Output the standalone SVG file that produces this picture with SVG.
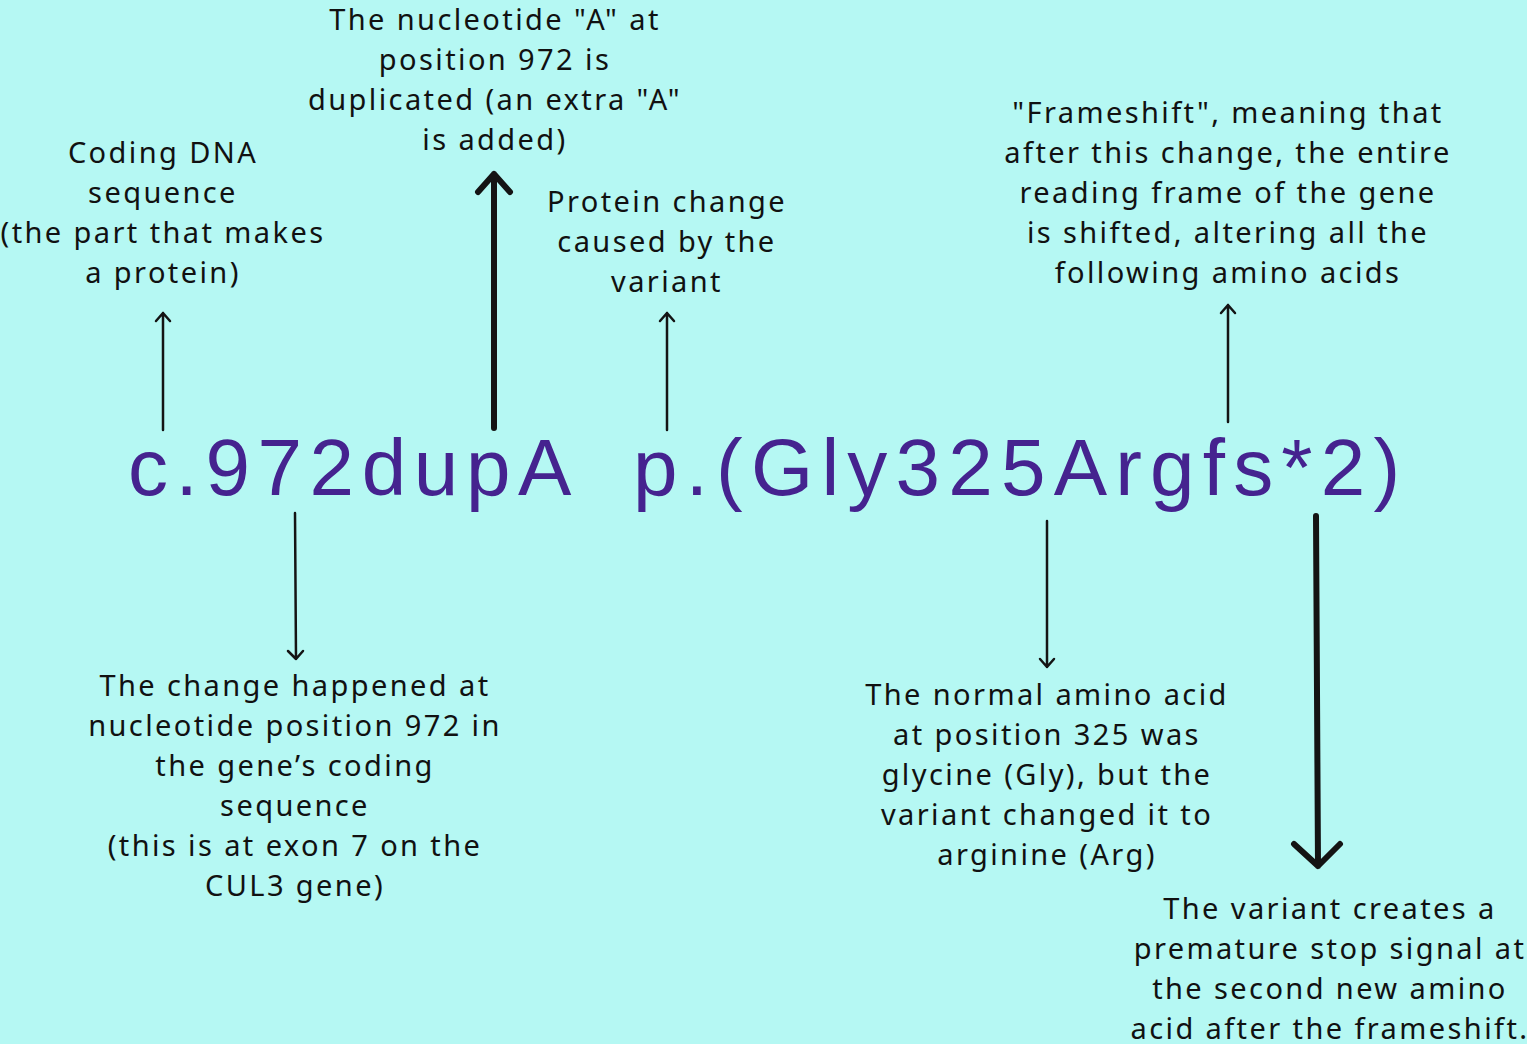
<svg xmlns="http://www.w3.org/2000/svg" width="1527" height="1044" viewBox="0 0 1527 1044">
<style>
.t{font-family:"Noto Sans","DejaVu Sans",sans-serif;font-size:29px;fill:#111;text-anchor:middle;letter-spacing:2.4px}
.big{font-family:"Liberation Sans",Arial,sans-serif;font-size:80px;fill:#45238f;letter-spacing:7.6px}
.thin{stroke:#141414;stroke-width:2.5;fill:none;stroke-linecap:round;stroke-linejoin:round}
.thick{stroke:#141414;stroke-width:6;fill:none;stroke-linecap:round;stroke-linejoin:round}
</style>
<rect width="1527" height="1044" fill="#b5f8f3"/>
<g id="code-c"><text class="big" x="128" y="495">c.972dupA</text></g>
<g id="code-p"><text class="big" x="633" y="495" style="letter-spacing:8.2px">p.(Gly325Argfs*2)</text></g>
<g id="note-coding"><text class="t"><tspan x="163" y="163">Coding DNA</tspan><tspan x="163" y="203">sequence</tspan><tspan x="163" y="243">(the part that makes</tspan><tspan x="163" y="283">a protein)</tspan></text></g>
<g id="note-dup"><text class="t"><tspan x="495" y="30">The nucleotide "A" at</tspan><tspan x="495" y="70">position 972 is</tspan><tspan x="495" y="110">duplicated (an extra "A"</tspan><tspan x="495" y="150">is added)</tspan></text></g>
<g id="note-protein"><text class="t"><tspan x="667" y="212">Protein change</tspan><tspan x="667" y="252">caused by the</tspan><tspan x="667" y="292">variant</tspan></text></g>
<g id="note-fs"><text class="t"><tspan x="1228" y="123">"Frameshift", meaning that</tspan><tspan x="1228" y="163">after this change, the entire</tspan><tspan x="1228" y="203">reading frame of the gene</tspan><tspan x="1228" y="243">is shifted, altering all the</tspan><tspan x="1228" y="283">following amino acids</tspan></text></g>
<g id="note-pos"><text class="t"><tspan x="295" y="696">The change happened at</tspan><tspan x="295" y="736">nucleotide position 972 in</tspan><tspan x="295" y="776">the gene’s coding</tspan><tspan x="295" y="816">sequence</tspan><tspan x="295" y="856">(this is at exon 7 on the</tspan><tspan x="295" y="896">CUL3 gene)</tspan></text></g>
<g id="note-gly"><text class="t"><tspan x="1047" y="705">The normal amino acid</tspan><tspan x="1047" y="745">at position 325 was</tspan><tspan x="1047" y="785">glycine (Gly), but the</tspan><tspan x="1047" y="825">variant changed it to</tspan><tspan x="1047" y="865">arginine (Arg)</tspan></text></g>
<g id="note-stop"><text class="t"><tspan x="1330" y="919">The variant creates a</tspan><tspan x="1330" y="959">premature stop signal at</tspan><tspan x="1330" y="999">the second new amino</tspan><tspan x="1330" y="1039">acid after the frameshift.</tspan></text></g>
<g id="connectors">
<path class="thin" d="M163 430V313M156 321L163 313L170 321"/>
<path class="thick" d="M494 428V174M478 192L494 174L510 192"/>
<path class="thin" d="M667 430V313M660 321L667 313L674 321"/>
<path class="thin" d="M1228 422V305M1221 313L1228 305L1235 313"/>
<path class="thin" d="M295 513L296 659M288 651L296 659L303 651"/>
<path class="thin" d="M1047 521V667M1040 659L1047 667L1054 659"/>
<path class="thick" d="M1316 516L1318 866M1294 844L1318 866L1340 844"/>
</g>
</svg>
